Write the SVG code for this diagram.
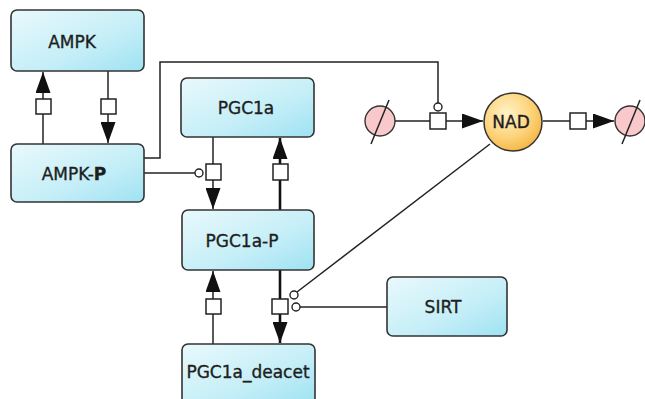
<svg xmlns="http://www.w3.org/2000/svg" width="645" height="399" viewBox="0 0 645 399">
<style>
.box{fill:url(#cy);stroke:#333;stroke-width:1.6}
.lbl{font-family:"DejaVu Sans",sans-serif;font-size:17px;fill:#1e1e1e;stroke:#1e1e1e;stroke-width:0.35;text-anchor:middle;dominant-baseline:central}
.ln{fill:none;stroke:#222;stroke-width:1.5}
.thk{fill:none;stroke:#111;stroke-width:2.6}
.sq{fill:#fff;stroke:#222;stroke-width:1.5}
.mod{fill:#fff;stroke:#222;stroke-width:1.4}
.src{fill:#f8c8cb;stroke:#333;stroke-width:1.4}
</style>
<defs>
<linearGradient id="cy" x1="0" y1="0" x2="1" y2="1">
<stop offset="0" stop-color="#e9f9fc"/>
<stop offset="0.6" stop-color="#c4eef7"/>
<stop offset="1" stop-color="#9ee2f2"/>
</linearGradient>
<radialGradient id="og" cx="0.4" cy="0.35" r="0.7">
<stop offset="0" stop-color="#fff3c8"/>
<stop offset="0.6" stop-color="#fdd37a"/>
<stop offset="1" stop-color="#f5b440"/>
</radialGradient>
<marker id="ah" markerUnits="userSpaceOnUse" markerWidth="21" markerHeight="15" refX="21" refY="7.5" orient="auto">
<path d="M0,0 L21,7.5 L0,15 z" fill="#111"/>
</marker>
</defs>
<rect width="645" height="399" fill="#fff"/>
<g id="connectors">
<line class="ln" x1="43" y1="144" x2="43" y2="72" marker-end="url(#ah)"/>
<rect class="sq" x="36" y="99" width="15" height="15"/>
<line class="ln" x1="108" y1="71" x2="108" y2="143" marker-end="url(#ah)"/>
<rect class="sq" x="101" y="99" width="15" height="15"/>
<line class="ln" x1="213" y1="137" x2="213" y2="209" marker-end="url(#ah)"/>
<rect class="sq" x="206" y="164" width="15" height="16"/>
<line class="ln" x1="144" y1="173" x2="195" y2="173"/>
<circle class="mod" cx="199" cy="173" r="4"/>
<line class="thk" x1="280" y1="210" x2="280" y2="138" marker-end="url(#ah)"/>
<rect class="sq" x="273" y="164" width="15" height="16"/>
<line class="ln" x1="213" y1="344" x2="213" y2="271" marker-end="url(#ah)"/>
<rect class="sq" x="206" y="299" width="15" height="15"/>
<line class="thk" x1="280" y1="270" x2="280" y2="343" marker-end="url(#ah)"/>
<rect class="sq" x="272" y="299" width="16" height="15"/>
<line class="ln" x1="297" y1="292" x2="490" y2="144"/>
<circle class="mod" cx="294" cy="295" r="4"/>
<line class="ln" x1="300" y1="307" x2="387" y2="307"/>
<circle class="mod" cx="296" cy="307" r="4"/>
<line class="ln" x1="395" y1="121" x2="483" y2="121" marker-end="url(#ah)"/>
<rect class="sq" x="430" y="113" width="16" height="16"/>
<polyline class="ln" points="144,158 160,158 160,62 438,62 438,103"/>
<circle class="mod" cx="438" cy="107" r="4"/>
<line class="ln" x1="543" y1="121" x2="614" y2="121" marker-end="url(#ah)"/>
<rect class="sq" x="570" y="113" width="16" height="16"/>
</g>
<g id="AMPK"><rect class="box" x="11" y="10" width="133" height="61" rx="6"/><text class="lbl" x="72" y="42">AMPK</text></g>
<g id="AMPK-P"><rect class="box" x="11" y="144" width="133" height="58" rx="6"/><text class="lbl" x="74" y="174">AMPK-<tspan font-weight="bold">P</tspan></text></g>
<g id="PGC1a"><rect class="box" x="181" y="78" width="133" height="59" rx="6"/><text class="lbl" x="246" y="108">PGC1a</text></g>
<g id="PGC1a-P"><rect class="box" x="182" y="210" width="132" height="60" rx="6"/><text class="lbl" x="242" y="241">PGC1a-P</text></g>
<g id="PGC1a_deacet"><rect class="box" x="182" y="344" width="133" height="60" rx="6"/><text class="lbl" x="248" y="372">PGC1a_deacet</text></g>
<g id="SIRT"><rect class="box" x="387" y="277" width="120" height="59" rx="6"/><text class="lbl" x="443" y="307">SIRT</text></g>
<g id="NAD"><circle cx="513" cy="122" r="29" fill="url(#og)" stroke="#333" stroke-width="1.5"/><text class="lbl" x="511" y="122">NAD</text></g>
<g id="source"><circle class="src" cx="380" cy="121" r="15"/><line class="ln" x1="371" y1="144" x2="389" y2="100"/></g>
<g id="sink"><circle class="src" cx="630" cy="121" r="15"/><line class="ln" x1="622" y1="144" x2="640" y2="100"/></g>
</svg>
